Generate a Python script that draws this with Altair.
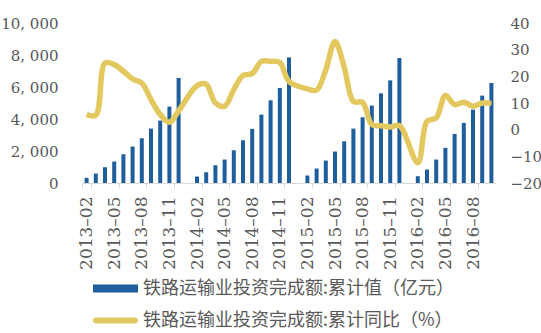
import altair as alt
import pandas as pd

# ---- categories: every month from 2013-02 to 2016-10 (January has no data)
years = [2013, 2014, 2015, 2016]
months = [f"{y}-{m:02d}" for y in years for m in range(1, 13)]
months = months[months.index("2013-02"):months.index("2016-10") + 1]

# ---- cumulative investment (亿元), Feb..Dec of each year
bar_2013 = [324, 593, 986, 1342, 1797, 2278, 2796, 3401, 3900, 4774, 6565]
bar_2014 = [406, 674, 1111, 1466, 2047, 2671, 3382, 4274, 5167, 5940, 7850]
bar_2015 = [468, 905, 1404, 1966, 2608, 3401, 4106, 4836, 5604, 6415, 7812]
bar_2016 = [424, 842, 1466, 2196, 3070, 3756, 4586, 5460, 6252]

# ---- cumulative YoY (%)
yoy_2013 = [5.7, 5.4, 25.0, 24.4, 21.9, 19.0, 17.5, 11.3, 5.7, 2.8, 7.0]
yoy_2014 = [16.5, 17.0, 10.0, 8.8, 15.0, 20.3, 21.0, 25.6, 25.6, 25.2, 18.1]
yoy_2015 = [15.3, 14.8, 22.5, 33.1, 23.5, 10.6, 10.2, 1.9, 1.5, 1.0, 1.5]
yoy_2016 = [-12.4, 3.1, 4.4, 12.8, 9.4, 10.3, 8.8, 10.0, 9.8]

label_bar = "铁路运输业投资完成额:累计值（亿元）"
label_line = "铁路运输业投资完成额:累计同比（%）"

data_months = [m for m in months if not m.endswith("-01")]
bars = bar_2013 + bar_2014 + bar_2015 + bar_2016
yoys = yoy_2013 + yoy_2014 + yoy_2015 + yoy_2016

df = pd.DataFrame({"month": data_months, "value": bars, "yoy": yoys,
                   "s1": label_bar, "s2": label_line})

BLUE = "#1F5E9C"
YELLOW = "#E3C75F"
GRAY = "#595959"
SERIF = "DejaVu Serif"

x = alt.X("month:O", title=None,
          scale=alt.Scale(type="band", domain=months, paddingInner=0, paddingOuter=0),
          axis=alt.Axis(values=months[::3], tickBand="extent", labelAngle=-90,
                        labelExpr="replace(datum.label, '-', '–')",
                        labelFont=SERIF, labelFontSize=17, labelColor=GRAY,
                        domainColor="#D9D9D9", tickColor="#D9D9D9", tickSize=5,
                        labelPadding=8, grid=False))

bar = alt.Chart(df).mark_bar(size=4).encode(
    x=x,
    y=alt.Y("value:Q", title=None,
            scale=alt.Scale(domain=[0, 10000], nice=False),
            axis=alt.Axis(orient="left", values=[0, 2000, 4000, 6000, 8000, 10000],
                          labelExpr="replace(format(datum.value, ','), ',', ', ')",
                          labelFont=SERIF, labelFontSize=15, labelColor=GRAY,
                          labelPadding=24, ticks=False, domain=False, grid=False)),
    fill=alt.Fill("s1:N", scale=alt.Scale(domain=[label_bar], range=[BLUE]),
                  legend=alt.Legend(title=None, orient="none", legendX=11, legendY=243,
                                    padding=0,
                                    symbolType="M-1,-0.18L1,-0.18L1,0.18L-1,0.18Z",
                                    symbolSize=2025, symbolStrokeWidth=0,
                                    labelFont="Noto Sans CJK SC", labelFontSize=18,
                                    labelColor=GRAY, labelOffset=5, labelLimit=400)),
)

line = alt.Chart(df).mark_line(strokeWidth=5.5, interpolate="catmull-rom").encode(
    x=x,
    y=alt.Y("yoy:Q", title=None,
            scale=alt.Scale(domain=[-20, 40], nice=False),
            axis=alt.Axis(orient="right", values=[-20, -10, 0, 10, 20, 30, 40],
                          labelFont=SERIF, labelFontSize=15, labelColor=GRAY,
                          labelPadding=14, ticks=False, domain=False, grid=False)),
    stroke=alt.Stroke("s2:N", scale=alt.Scale(domain=[label_line], range=[YELLOW]),
                      legend=alt.Legend(title=None, orient="none", legendX=11, legendY=275,
                                        padding=0,
                                        symbolType="M-0.87,-0.13L0.87,-0.13A0.13,0.13 0 0 1 0.87,0.13L-0.87,0.13A0.13,0.13 0 0 1 -0.87,-0.13Z",
                                        symbolSize=2025, symbolStrokeWidth=0,
                                        symbolFillColor=YELLOW,
                                        labelFont="Noto Sans CJK SC", labelFontSize=18,
                                        labelColor=GRAY, labelOffset=5, labelLimit=400)),
)

chart = alt.layer(bar, line).resolve_scale(y="independent", fill="independent",
                                           stroke="independent").properties(
    width=414, height=160,
    autosize=alt.AutoSizeParams(type="none"),
    padding={"left": 82, "top": 23, "right": 45, "bottom": 150},
    background="white",
).configure_view(stroke=None)

chart.save("out.html", embed_options={"renderer": "svg", "actions": False})
